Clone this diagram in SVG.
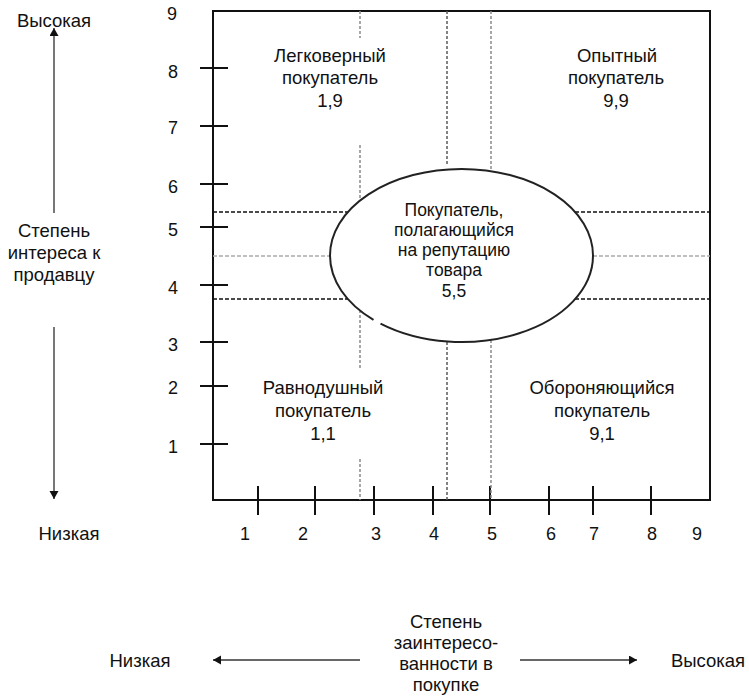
<svg xmlns="http://www.w3.org/2000/svg" width="749" height="698" viewBox="0 0 749 698">
<defs>
<style>
text{font-family:"Liberation Sans",Arial,sans-serif;fill:#111;text-anchor:middle}
.lbl{font-size:18.5px}
.ell{font-size:17.5px}
.num{font-size:18px}
.frame{fill:none;stroke:#111;stroke-width:2}
.tick{stroke:#111;stroke-width:2}
.dk{fill:none;stroke:#111;stroke-width:1.5;stroke-dasharray:4 2}
.lg{fill:none;stroke:#aaa;stroke-width:1.5;stroke-dasharray:4 2}
.vg{fill:none;stroke:#8a8a8a;stroke-width:1.5;stroke-dasharray:3 2}
.vd{fill:none;stroke:#5a5a5a;stroke-width:1.5;stroke-dasharray:3 2}
.arr{stroke:#777;stroke-width:2;marker-end:url(#ah)}
.arrb{stroke:#333;stroke-width:1.5;marker-end:url(#ah)}
</style>
<marker id="ah" markerUnits="userSpaceOnUse" markerWidth="10" markerHeight="10" refX="8" refY="4.5" orient="auto">
<path d="M0,0 L8,4.5 L0,9 z" fill="#111"/>
</marker>
</defs>
<rect width="749" height="698" fill="#fff"/>

<g id="grid">
<rect class="frame" x="213" y="11" width="497" height="489"/>
<g id="y-ticks">
<line class="tick" x1="200" y1="68" x2="228" y2="68"/>
<line class="tick" x1="200" y1="126" x2="228" y2="126"/>
<line class="tick" x1="200" y1="184" x2="228" y2="184"/>
<line class="tick" x1="200" y1="227" x2="228" y2="227"/>
<line class="tick" x1="200" y1="285" x2="228" y2="285"/>
<line class="tick" x1="200" y1="342" x2="228" y2="342"/>
<line class="tick" x1="200" y1="386" x2="228" y2="386"/>
<line class="tick" x1="200" y1="444" x2="228" y2="444"/>
</g>
<g id="x-ticks">
<line class="tick" x1="258" y1="486" x2="258" y2="515"/>
<line class="tick" x1="315" y1="486" x2="315" y2="515"/>
<line class="tick" x1="374" y1="486" x2="374" y2="515"/>
<line class="tick" x1="433" y1="486" x2="433" y2="515"/>
<line class="tick" x1="490" y1="486" x2="490" y2="515"/>
<line class="tick" x1="549" y1="486" x2="549" y2="515"/>
<line class="tick" x1="593" y1="486" x2="593" y2="515"/>
<line class="tick" x1="651" y1="486" x2="651" y2="515"/>
</g>
<g id="y-labels">
<text class="num" x="172" y="20">9</text>
<text class="num" x="173" y="78">8</text>
<text class="num" x="173" y="134">7</text>
<text class="num" x="173" y="193">6</text>
<text class="num" x="173" y="236">5</text>
<text class="num" x="173" y="294">4</text>
<text class="num" x="173" y="351">3</text>
<text class="num" x="173" y="394">2</text>
<text class="num" x="173" y="453">1</text>
</g>
<g id="x-labels">
<text class="num" x="245" y="540">1</text>
<text class="num" x="303" y="540">2</text>
<text class="num" x="376" y="540">3</text>
<text class="num" x="434" y="540">4</text>
<text class="num" x="492" y="540">5</text>
<text class="num" x="551" y="540">6</text>
<text class="num" x="594" y="540">7</text>
<text class="num" x="652" y="540">8</text>
<text class="num" x="697" y="540">9</text>
</g>
</g>

<g id="guides">
<path class="vg" d="M360,11 V38 M360,145 V201 M360,310 V368 M360,459 V500"/>
<path class="vd" d="M447,11 V166 M447,342 V500"/>
<path class="vg" d="M491,11 V171 M491,340 V500"/>
<path class="dk" d="M213,212 H348 M575,212 H710"/>
<path class="dk" d="M213,299 H348 M575,299 H710"/>
<path class="lg" d="M213,256 H330 M593,256 H710"/>
</g>

<g id="connectors">
<line class="arr" x1="54" y1="213" x2="54" y2="28"/>
<line class="arr" x1="54" y1="327" x2="54" y2="499"/>
<line class="arrb" x1="360" y1="660" x2="213" y2="660"/>
<line class="arrb" x1="520" y1="660" x2="637" y2="660"/>
</g>

<g id="node-gullible">
<text class="lbl" x="330" y="62">Легковерный</text>
<text class="lbl" x="330" y="84">покупатель</text>
<text class="lbl" x="330" y="107">1,9</text>
</g>
<g id="node-experienced">
<text class="lbl" x="617" y="62">Опытный</text>
<text class="lbl" x="616" y="84">покупатель</text>
<text class="lbl" x="616" y="107">9,9</text>
</g>
<g id="node-reputation">
<path d="M373.5,319.8 A131.5,86.5 0 0 1 330,255.5 A131.5,86.5 0 0 1 593,255.5 A131.5,86.5 0 0 1 380.5,323.7" fill="none" stroke="#222" stroke-width="2"/>
<text class="ell" x="454" y="216">Покупатель,</text>
<text class="ell" x="454" y="236">полагающийся</text>
<text class="ell" x="454" y="256">на репутацию</text>
<text class="ell" x="454" y="276">товара</text>
<text class="ell" x="454" y="297">5,5</text>
</g>
<g id="node-indifferent">
<text class="lbl" x="323" y="394">Равнодушный</text>
<text class="lbl" x="323" y="417">покупатель</text>
<text class="lbl" x="323" y="440">1,1</text>
</g>
<g id="node-defensive">
<text class="lbl" x="602" y="394">Обороняющийся</text>
<text class="lbl" x="602" y="417">покупатель</text>
<text class="lbl" x="602" y="440">9,1</text>
</g>

<g id="node-y-axis">
<text class="lbl" x="54" y="27">Высокая</text>
<text class="lbl" x="54" y="237">Степень</text>
<text class="lbl" x="54" y="259">интереса к</text>
<text class="lbl" x="54" y="281">продавцу</text>
<text class="lbl" x="69" y="540">Низкая</text>
</g>
<g id="node-x-axis">
<text class="lbl" x="446" y="628">Степень</text>
<text class="lbl" x="446" y="649">заинтересо-</text>
<text class="lbl" x="446" y="670">ванности в</text>
<text class="lbl" x="446" y="691">покупке</text>
<text class="lbl" x="140" y="667">Низкая</text>
<text class="lbl" x="708" y="667">Высокая</text>
</g>
</svg>
